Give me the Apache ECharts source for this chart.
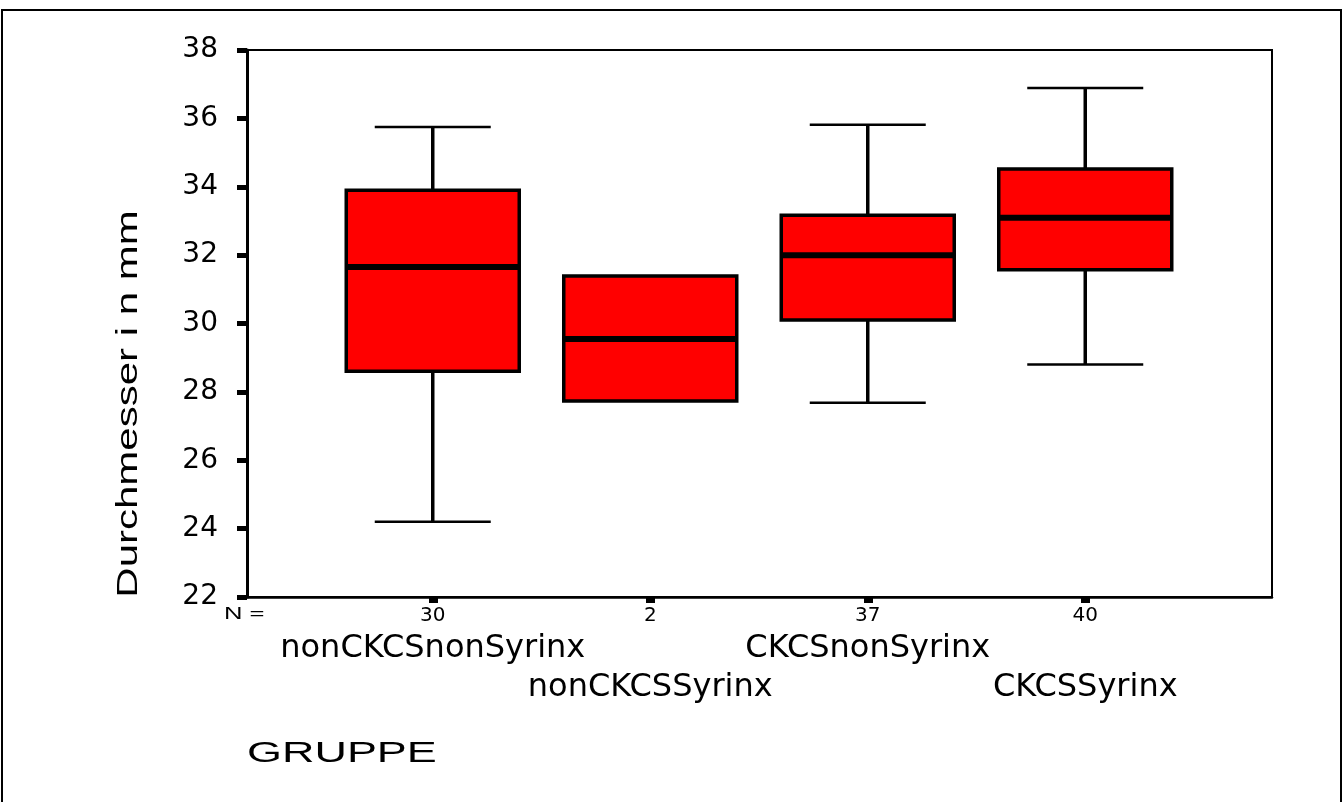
<!DOCTYPE html>
<html>
<head>
<meta charset="utf-8">
<script src="https://cdn.jsdelivr.net/npm/echarts@6/dist/echarts.min.js"></script>
<style>
  html, body { margin: 0; padding: 0; background: #fff; }
  #chart { width: 1343px; height: 802px; }
</style>
</head>
<body>
<div id="chart"></div>
<script>
// groups and their N
const categories = ['nonCKCSnonSyrinx', 'nonCKCSSyrinx', 'CKCSnonSyrinx', 'CKCSSyrinx'];
const counts = [30, 2, 37, 40];
// box statistics (mm)
const whiskerLow = [24.2, 27.73, 27.68, 28.8];
const q1 = [28.6, 27.73, 30.1, 31.57];
const median = [31.65, 29.55, 32.0, 33.09];
const q3 = [33.9, 31.39, 33.17, 34.52];
const whiskerHigh = [35.75, 31.39, 35.81, 36.89];
const yMin = 22, yMax = 38, yStep = 2;

const boxData = categories.map((c, i) => [i, whiskerLow[i], q1[i], median[i], q3[i], whiskerHigh[i]]);

const chart = echarts.init(document.getElementById('chart'));

function renderBox(params, api) {
  const i = api.value(0);
  const lo = api.coord([i, api.value(1)]);
  const b1 = api.coord([i, api.value(2)]);
  const md = api.coord([i, api.value(3)]);
  const b3 = api.coord([i, api.value(4)]);
  const hi = api.coord([i, api.value(5)]);
  const cx = md[0];
  const halfBox = 86.5, halfCap = 58;
  const stemStyle = { stroke: '#000', lineWidth: 3.5 };
  const capStyle = { stroke: '#000', lineWidth: 2.5 };
  const kids = [];
  if (api.value(5) > api.value(4)) {
    kids.push({ type: 'line', shape: { x1: cx, y1: hi[1], x2: cx, y2: b3[1] }, style: stemStyle });
    kids.push({ type: 'line', shape: { x1: cx - halfCap, y1: hi[1], x2: cx + halfCap, y2: hi[1] }, style: capStyle });
  }
  if (api.value(1) < api.value(2)) {
    kids.push({ type: 'line', shape: { x1: cx, y1: b1[1], x2: cx, y2: lo[1] }, style: stemStyle });
    kids.push({ type: 'line', shape: { x1: cx - halfCap, y1: lo[1], x2: cx + halfCap, y2: lo[1] }, style: capStyle });
  }
  kids.push({
    type: 'rect',
    shape: { x: cx - halfBox, y: b3[1], width: halfBox * 2, height: b1[1] - b3[1] },
    style: { fill: '#ff0000', stroke: '#000', lineWidth: 3.5 }
  });
  kids.push({ type: 'line', shape: { x1: cx - halfBox, y1: md[1], x2: cx + halfBox, y2: md[1] }, style: { stroke: '#000', lineWidth: 6 } });
  return { type: 'group', children: kids };
}

const option = {
  backgroundColor: '#fff',
  animation: false,
  textStyle: { fontFamily: 'DejaVu Sans', color: '#000' },
  grid: [
    { left: 247, right: 71, top: 50, bottom: 205, show: true, borderColor: '#000', borderWidth: 2 },
    { left: 324, right: 149, top: 50, bottom: 205 }
  ],
  xAxis: [
    {
      gridIndex: 0, type: 'value', min: 0, max: 1,
      axisLine: { show: true, onZero: false, lineStyle: { color: '#000', width: 2.5 } },
      axisTick: { show: false }, axisLabel: { show: false }, splitLine: { show: false }
    },
    {
      gridIndex: 1, type: 'category', data: categories,
      axisLine: { show: false },
      axisTick: { show: true, alignWithLabel: true, length: 6, lineStyle: { color: '#000', width: 9 } },
      axisLabel: {
        interval: 0,
        margin: 5,
        color: '#000',
        fontSize: 20,
        fontFamily: 'DejaVu Sans',
        formatter: function (value, index) {
          const n = '{n|' + counts[index] + '}';
          return index % 2 === 0 ? n + '\n{c|' + value + '}' : n + '\n{c| }\n{c|' + value + '}';
        },
        rich: {
          n: { fontSize: 20, lineHeight: 27, fontFamily: 'DejaVu Sans', color: '#000' },
          c: { fontSize: 32, lineHeight: 39, fontFamily: 'DejaVu Sans', color: '#000' }
        }
      },
      splitLine: { show: false }
    }
  ],
  yAxis: [
    {
      gridIndex: 0, type: 'value', min: yMin, max: yMax, interval: yStep,
      axisLine: { show: true, lineStyle: { color: '#000', width: 3 } },
      axisTick: { show: true, length: 10, lineStyle: { color: '#000', width: 5 } },
      axisLabel: { margin: 29, fontSize: 28, color: '#000', fontFamily: 'DejaVu Sans' },
      splitLine: { show: false }
    },
    { gridIndex: 1, type: 'value', min: yMin, max: yMax, show: false }
  ],
  series: [
    {
      type: 'custom',
      xAxisIndex: 1,
      yAxisIndex: 1,
      data: boxData,
      encode: { x: 0, y: [1, 2, 3, 4, 5] },
      renderItem: renderBox,
      clip: false
    }
  ],
  graphic: [
    { type: 'rect', shape: { x: 2, y: 10, width: 1339, height: 900 }, style: { fill: 'none', stroke: '#000', lineWidth: 2 }, silent: true },
    {
      type: 'text', x: 129, y: 404, rotation: Math.PI / 2, scaleX: 1.4,
      style: { text: 'Durchmesser i n mm', font: '30px "Liberation Sans"', fill: '#000', align: 'center', verticalAlign: 'middle', textAlign: 'center', textVerticalAlign: 'middle' }
    },
    {
      type: 'text', x: 224, y: 615, scaleX: 1.6,
      style: { text: 'N =', font: '16px "Liberation Sans"', fill: '#000', align: 'left', verticalAlign: 'middle', textAlign: 'left', textVerticalAlign: 'middle' }
    },
    {
      type: 'text', x: 247, y: 754, scaleX: 1.55,
      style: { text: 'GRUPPE', font: '29px "Liberation Sans"', fill: '#000', align: 'left', verticalAlign: 'middle', textAlign: 'left', textVerticalAlign: 'middle' }
    }
  ]
};

chart.setOption(option);
</script>
</body>
</html>
